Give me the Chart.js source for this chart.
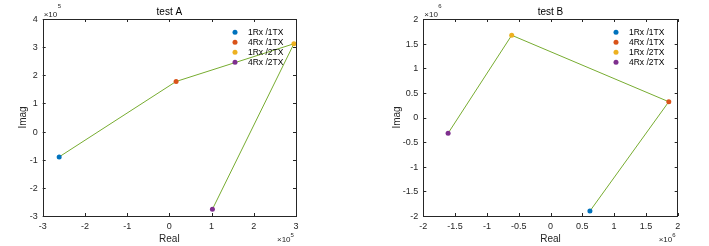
<!DOCTYPE html>
<html><head><meta charset="utf-8">
<script src="https://cdn.jsdelivr.net/npm/chart.js@4"></script>
<style>html,body{margin:0;padding:0;background:#fff;} #wrap{position:relative;width:709px;height:246px;} canvas{position:absolute;top:0;}</style>
</head><body><div id="wrap"><canvas id="cA" width="354" height="246" style="left:0"></canvas><canvas id="cB" width="355" height="246" style="left:354px"></canvas></div>
<script>
const seriesLabels = ['1Rx /1TX', '4Rx /1TX', '1Rx /2TX', '4Rx /2TX'];
const seriesColors = ['#0072BD', '#D95319', '#EDB120', '#7E2F8E'];
const lineColor = '#77AC30';
// test A (units of 1e5)
const realA = [-2.61, 0.16, 2.95, 1.02];
const imagA = [-0.90, 1.78, 3.12, -2.76];
const xTicksA = [-3, -2, -1, 0, 1, 2, 3];
const yTicksA = [-3, -2, -1, 0, 1, 2, 3, 4];
// test B (units of 1e6)
const realB = [0.62, 1.86, -0.61, -1.61];
const imagB = [-1.90, 0.32, 1.67, -0.32];
const xTicksB = [-2, -1.5, -1, -0.5, 0, 0.5, 1, 1.5, 2];
const yTicksB = [-2, -1.5, -1, -0.5, 0, 0.5, 1, 1.5, 2];

const FONT = 'Liberation Sans, Arial, sans-serif';

function makeChart(id, cfg) {
  const exp = cfg.exp, mult = Math.pow(10, exp);
  const datasets = [{
    label: 'line', data: cfg.re.map((r, i) => ({x: r * mult, y: cfg.im[i] * mult})),
    showLine: true, borderColor: lineColor, borderWidth: 1, pointRadius: 0, order: 2
  }];
  seriesLabels.forEach((lab, i) => datasets.push({
    label: lab, data: [{x: cfg.re[i] * mult, y: cfg.im[i] * mult}],
    backgroundColor: seriesColors[i], borderColor: seriesColors[i], pointRadius: 2.5, borderWidth: 0, order: 1
  }));
  const fmt = v => String(Math.round(v / mult * 100) / 100);
  const deco = {
    id: 'deco',
    afterDraw(chart) {
      const c = chart.ctx, a = chart.chartArea, xs = chart.scales.x, ys = chart.scales.y;
      c.save();
      c.strokeStyle = '#262626'; c.lineWidth = 1;
      c.beginPath();
      xs.ticks.forEach(t => { const px = Math.round(xs.getPixelForValue(t.value)) + 0.5;
        c.moveTo(px, a.bottom); c.lineTo(px, a.bottom - 3); c.moveTo(px, a.top); c.lineTo(px, a.top + 3); });
      ys.ticks.forEach(t => { const py = Math.round(ys.getPixelForValue(t.value)) + 0.5;
        c.moveTo(a.left, py); c.lineTo(a.left + 3, py); c.moveTo(a.right, py); c.lineTo(a.right - 3, py); });
      c.stroke();
      c.strokeRect(Math.round(a.left) + 0.5, Math.round(a.top) + 0.5, Math.round(a.right - a.left), Math.round(a.bottom - a.top));
      // tick labels
      c.fillStyle = '#262626';
      c.font = '9px ' + FONT;
      c.textAlign = 'center'; c.textBaseline = 'middle';
      xs.ticks.forEach(t => c.fillText(fmt(t.value), xs.getPixelForValue(t.value), a.bottom + 10.5));
      c.textAlign = 'right';
      ys.ticks.forEach(t => c.fillText(fmt(t.value), a.left - 5, ys.getPixelForValue(t.value) + 0.5));
      // titles
      c.fillStyle = '#000';
      c.font = '10px ' + FONT; c.textAlign = 'center'; c.textBaseline = 'alphabetic';
      const cx = (a.left + a.right) / 2;
      c.fillText(cfg.title, cx, 15);
      c.fillStyle = '#262626';
      c.fillText('Real', cx, 242);
      c.save(); c.translate(cfg.imagX, (a.top + a.bottom) / 2); c.rotate(-Math.PI / 2);
      c.fillText('Imag', 0, 3.5); c.restore();
      // exponent labels
      c.textAlign = 'left'; c.fillStyle = '#262626';
      c.font = '8px ' + FONT; c.fillText('\u00d710', a.left + 1, 16.5);
      c.font = '6px ' + FONT; c.fillText(String(exp), a.left + 15, 7.5);
      c.font = '8px ' + FONT; c.fillText('\u00d710', a.right - 19, 242);
      c.font = '6px ' + FONT; c.fillText(String(exp), a.right - 5.5, 237);
      // legend
      c.font = '8.5px ' + FONT; c.textBaseline = 'middle';
      seriesLabels.forEach((lab, i) => {
        const y = 32.3 + i * 10;
        c.fillStyle = seriesColors[i]; c.beginPath(); c.arc(cfg.legX, y, 2.5, 0, Math.PI * 2); c.fill();
        c.fillStyle = '#000'; c.fillText(lab, cfg.legX + 13, y + 0.5);
      });
      c.restore();
    }
  };
  return new Chart(document.getElementById(id), {
    type: 'scatter',
    data: {datasets},
    options: {
      responsive: false, animation: false,
      layout: {padding: {top: 19, right: cfg.padR, left: 0, bottom: 0}},
      plugins: {legend: {display: false}, tooltip: {enabled: false}},
      scales: {
        x: {
          type: 'linear', min: cfg.xt[0] * mult, max: cfg.xt[cfg.xt.length - 1] * mult,
          afterBuildTicks: s => { s.ticks = cfg.xt.map(v => ({value: v * mult})); },
          afterFit: s => { s.height = 30; },
          grid: {display: false}, border: {display: false},
          ticks: {display: false, callback: fmt, autoSkip: false, maxRotation: 0}
        },
        y: {
          type: 'linear', min: cfg.yt[0] * mult, max: cfg.yt[cfg.yt.length - 1] * mult,
          afterBuildTicks: s => { s.ticks = cfg.yt.map(v => ({value: v * mult})); },
          afterFit: s => { s.width = cfg.axL; },
          grid: {display: false}, border: {display: false},
          ticks: {display: false, callback: fmt, autoSkip: false}
        }
      }
    },
    plugins: [deco]
  });
}

makeChart('cA', {exp: 5, re: realA, im: imagA, xt: xTicksA, yt: yTicksA, title: 'test A', axL: 42.7, padR: 58, imagX: 22, legX: 235});
makeChart('cB', {exp: 6, re: realB, im: imagB, xt: xTicksB, yt: yTicksB, title: 'test B', axL: 69.3, padR: 31.3, imagX: 42.7, legX: 262});
</script></body></html>
